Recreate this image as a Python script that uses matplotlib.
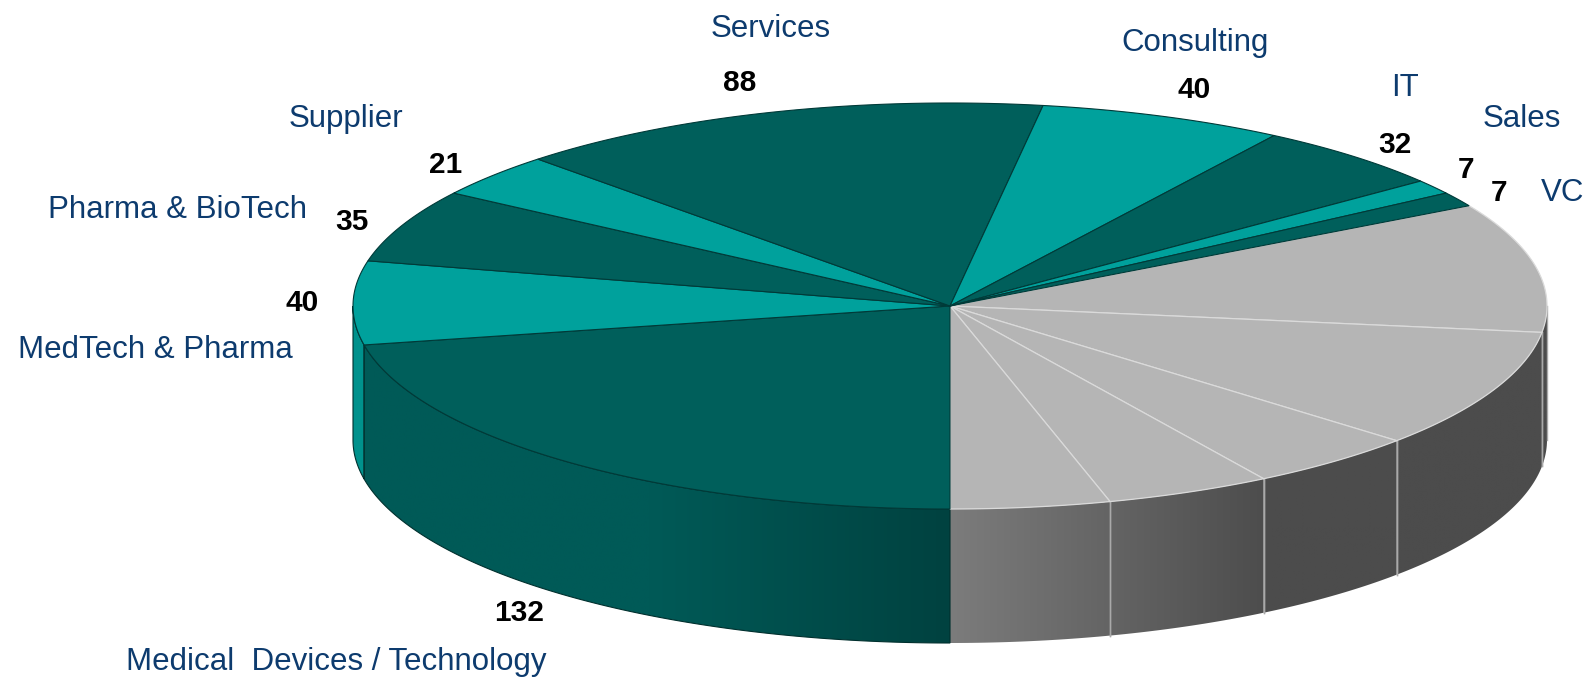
import numpy as np
import matplotlib
matplotlib.use("Agg")
import matplotlib.pyplot as plt
from matplotlib.patches import Polygon

# ---------------- data ----------------
categories = ["Medical  Devices / Technology", "MedTech & Pharma", "Pharma & BioTech",
              "Supplier", "Services", "Consulting", "IT", "Sales", "VC"]
values = [132, 40, 35, 21, 88, 40, 32, 7, 7]
other_values = [62, 57, 28, 27, 26]          # unlabelled grey slices

# ---------------- layout / style ----------------
plt.rcParams['font.family'] = ['Liberation Sans', 'DejaVu Sans']
W, H = 1595, 691
fig = plt.figure(figsize=(W / 100, H / 100), dpi=100)
ax = fig.add_axes([0, 0, 1, 1])
ax.set_xlim(0, W)
ax.set_ylim(H, 0)
ax.axis('off')
ax.set_autoscale_on(False)

CX, CY, RA, RB, DEPTH = 950, 306, 597, 203, 134
START = -90.0

DARK_TEAL = '#005f5b'
LIGHT_TEAL = '#00a19c'
GREY_TOP = '#b5b5b5'
LABEL_COLOR = '#0d3b6e'

all_vals = values + other_values
total = float(sum(all_vals))
bounds = START - np.concatenate([[0], np.cumsum(all_vals)]) * 360.0 / total
n_col = len(values)


def pts(t0, t1, dz=0.0, n=200):
    t = np.radians(np.linspace(t0, t1, n))
    return np.column_stack([CX + RA * np.cos(t), CY - RB * np.sin(t) + dz])


def teal_dark_shade(x):
    f = np.clip((x - 650) / 300.0, 0, 1)[:, None]
    return ((1 - f) * np.array([0, 90, 87]) + f * np.array([0, 66, 64])) / 255.0


def teal_light_shade(x):
    return np.tile(np.array([0, 146, 141]) / 255.0, (len(x), 1))


def grey_shade(x):
    f = np.clip((x - 950) / 320.0, 0, 1)[:, None]
    return ((1 - f) * np.array([124, 124, 124]) + f * np.array([76, 76, 76])) / 255.0


# ---------------- sides ----------------
for i in range(len(all_vals)):
    hi, lo = bounds[i], bounds[i + 1]
    if i < n_col:
        shade = teal_dark_shade if i % 2 == 0 else teal_light_shade
        edge = '#00302e'
    else:
        shade = grey_shade
        edge = 'none'
    for k in (-1, 0, 1):
        a = max(lo, -180 + 360 * k)
        b = min(hi, 360 * k)
        if b <= a:
            continue
        top = pts(b, a)
        bot = pts(a, b, DEPTH)
        poly = np.vstack([top, bot])
        patch = Polygon(poly, closed=True, facecolor='none', edgecolor=edge,
                        linewidth=0.8, zorder=2)
        ax.add_patch(patch)
        x0, x1 = poly[:, 0].min(), poly[:, 0].max()
        y0, y1 = poly[:, 1].min(), poly[:, 1].max()
        xs = np.linspace(x0, x1, 256)
        img = shade(xs)[None, :, :]
        im = ax.imshow(img, extent=(x0, x1, y1, y0), aspect='auto',
                       interpolation='bilinear', zorder=1)
        im.set_clip_path(patch)
        if i >= n_col:
            # light divider lines on the grey wall
            for t in (a, b):
                if abs(t - START) > 0.5 and abs(t - (START - 360)) > 0.5:
                    p = pts(t, t, 0, 2)
                    ax.plot([p[0, 0], p[0, 0]], [p[0, 1], p[0, 1] + DEPTH],
                            color='#a9a9a9', lw=1.0, zorder=2.5)

# ---------------- tops ----------------
for i in range(len(all_vals)):
    hi, lo = bounds[i], bounds[i + 1]
    arc = pts(hi, lo)
    poly = np.vstack([[CX, CY], arc])
    if i < n_col:
        fc = DARK_TEAL if i % 2 == 0 else LIGHT_TEAL
        ax.add_patch(Polygon(poly, closed=True, facecolor=fc, edgecolor='#003a38',
                             linewidth=0.8, zorder=4))
    else:
        ax.add_patch(Polygon(poly, closed=True, facecolor=GREY_TOP, edgecolor='#dadada',
                             linewidth=0.9, zorder=3))

# ---------------- labels ----------------
label_pos = [(336, 662), (155, 350), (178, 210), (346, 119), (771, 29),
             (1195, 43), (1405, 88), (1522, 119), (1563, 193)]
value_pos = [(519, 613), (302, 303), (352, 222), (446, 165), (740, 83),
             (1194, 90), (1395, 145), (1466, 170), (1499, 193)]

for name, v, (lx, ly), (vx, vy) in zip(categories, values, label_pos, value_pos):
    ax.text(lx, ly, name, color=LABEL_COLOR, fontsize=22.5, ha='center', va='center', zorder=6)
    ax.text(vx, vy, str(v), color='black', fontsize=21.5, fontweight='bold',
            ha='center', va='center', zorder=6)

fig.savefig('out.png', dpi=100, facecolor='white')
